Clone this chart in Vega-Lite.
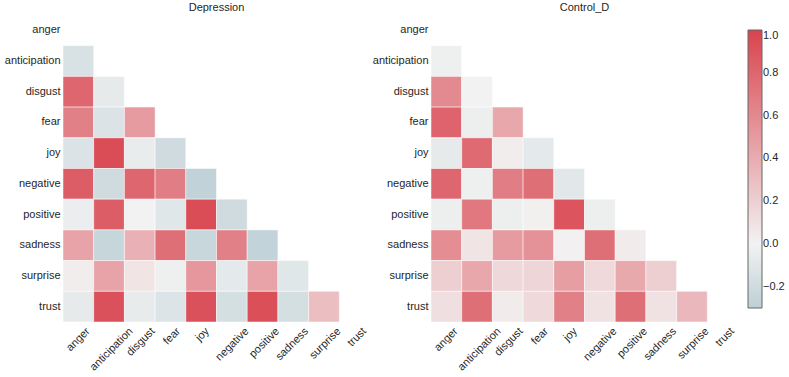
{
  "$schema": "https://vega.github.io/schema/vega-lite/v6.json",
  "padding": {"left": 4, "top": 2, "right": 2, "bottom": 2},
  "config": {
    "font": "Liberation Sans",
    "view": {"stroke": null},
    "concat": {"spacing": 2},
    "title": {"fontSize": 11, "fontWeight": "normal", "color": "#262626", "offset": 2, "font": "Liberation Sans"},
    "axis": {"labelFont": "Liberation Sans", "labelFontSize": 11, "labelColor": "#262626", "ticks": false, "domain": false, "grid": false, "title": null},
    "legend": {"labelFont": "Liberation Sans", "labelFontSize": 11, "labelColor": "#262626"}
  },
  "datasets": {
    "dep": [
      {"row": "anticipation", "col": "anger", "value": -0.15},
      {"row": "disgust", "col": "anger", "value": 0.8},
      {"row": "disgust", "col": "anticipation", "value": -0.07},
      {"row": "fear", "col": "anger", "value": 0.65},
      {"row": "fear", "col": "anticipation", "value": -0.13},
      {"row": "fear", "col": "disgust", "value": 0.5},
      {"row": "joy", "col": "anger", "value": -0.13},
      {"row": "joy", "col": "anticipation", "value": 0.95},
      {"row": "joy", "col": "disgust", "value": -0.05},
      {"row": "joy", "col": "fear", "value": -0.2},
      {"row": "negative", "col": "anger", "value": 0.85},
      {"row": "negative", "col": "anticipation", "value": -0.2},
      {"row": "negative", "col": "disgust", "value": 0.8},
      {"row": "negative", "col": "fear", "value": 0.67},
      {"row": "negative", "col": "joy", "value": -0.28},
      {"row": "positive", "col": "anger", "value": -0.04},
      {"row": "positive", "col": "anticipation", "value": 0.85},
      {"row": "positive", "col": "disgust", "value": 0.0},
      {"row": "positive", "col": "fear", "value": -0.1},
      {"row": "positive", "col": "joy", "value": 0.95},
      {"row": "positive", "col": "negative", "value": -0.2},
      {"row": "sadness", "col": "anger", "value": 0.45},
      {"row": "sadness", "col": "anticipation", "value": -0.25},
      {"row": "sadness", "col": "disgust", "value": 0.37},
      {"row": "sadness", "col": "fear", "value": 0.75},
      {"row": "sadness", "col": "joy", "value": -0.24},
      {"row": "sadness", "col": "negative", "value": 0.65},
      {"row": "sadness", "col": "positive", "value": -0.27},
      {"row": "surprise", "col": "anger", "value": 0.03},
      {"row": "surprise", "col": "anticipation", "value": 0.45},
      {"row": "surprise", "col": "disgust", "value": 0.08},
      {"row": "surprise", "col": "fear", "value": -0.02},
      {"row": "surprise", "col": "joy", "value": 0.52},
      {"row": "surprise", "col": "negative", "value": -0.08},
      {"row": "surprise", "col": "positive", "value": 0.45},
      {"row": "surprise", "col": "sadness", "value": -0.1},
      {"row": "trust", "col": "anger", "value": -0.07},
      {"row": "trust", "col": "anticipation", "value": 0.92},
      {"row": "trust", "col": "disgust", "value": -0.06},
      {"row": "trust", "col": "fear", "value": -0.12},
      {"row": "trust", "col": "joy", "value": 0.92},
      {"row": "trust", "col": "negative", "value": -0.17},
      {"row": "trust", "col": "positive", "value": 0.93},
      {"row": "trust", "col": "sadness", "value": -0.17},
      {"row": "trust", "col": "surprise", "value": 0.3}
    ],
    "con": [
      {"row": "anticipation", "col": "anger", "value": -0.02},
      {"row": "disgust", "col": "anger", "value": 0.6},
      {"row": "disgust", "col": "anticipation", "value": 0.0},
      {"row": "fear", "col": "anger", "value": 0.82},
      {"row": "fear", "col": "anticipation", "value": -0.03},
      {"row": "fear", "col": "disgust", "value": 0.43},
      {"row": "joy", "col": "anger", "value": -0.07},
      {"row": "joy", "col": "anticipation", "value": 0.78},
      {"row": "joy", "col": "disgust", "value": 0.03},
      {"row": "joy", "col": "fear", "value": -0.08},
      {"row": "negative", "col": "anger", "value": 0.8},
      {"row": "negative", "col": "anticipation", "value": -0.02},
      {"row": "negative", "col": "disgust", "value": 0.67},
      {"row": "negative", "col": "fear", "value": 0.75},
      {"row": "negative", "col": "joy", "value": -0.09},
      {"row": "positive", "col": "anger", "value": -0.03},
      {"row": "positive", "col": "anticipation", "value": 0.7},
      {"row": "positive", "col": "disgust", "value": -0.03},
      {"row": "positive", "col": "fear", "value": 0.02},
      {"row": "positive", "col": "joy", "value": 0.9},
      {"row": "positive", "col": "negative", "value": -0.03},
      {"row": "sadness", "col": "anger", "value": 0.58},
      {"row": "sadness", "col": "anticipation", "value": 0.08},
      {"row": "sadness", "col": "disgust", "value": 0.5},
      {"row": "sadness", "col": "fear", "value": 0.55},
      {"row": "sadness", "col": "joy", "value": 0.01},
      {"row": "sadness", "col": "negative", "value": 0.75},
      {"row": "sadness", "col": "positive", "value": 0.04},
      {"row": "surprise", "col": "anger", "value": 0.2},
      {"row": "surprise", "col": "anticipation", "value": 0.43},
      {"row": "surprise", "col": "disgust", "value": 0.15},
      {"row": "surprise", "col": "fear", "value": 0.16},
      {"row": "surprise", "col": "joy", "value": 0.48},
      {"row": "surprise", "col": "negative", "value": 0.14},
      {"row": "surprise", "col": "positive", "value": 0.42},
      {"row": "surprise", "col": "sadness", "value": 0.2},
      {"row": "trust", "col": "anger", "value": 0.11},
      {"row": "trust", "col": "anticipation", "value": 0.75},
      {"row": "trust", "col": "disgust", "value": 0.04},
      {"row": "trust", "col": "fear", "value": 0.14},
      {"row": "trust", "col": "joy", "value": 0.65},
      {"row": "trust", "col": "negative", "value": 0.1},
      {"row": "trust", "col": "positive", "value": 0.75},
      {"row": "trust", "col": "sadness", "value": 0.09},
      {"row": "trust", "col": "surprise", "value": 0.33}
    ]
  },
  "hconcat": [
    {
      "title": "Depression",
      "width": 307,
      "height": 307,
      "data": {"name": "dep"},
      "mark": {"type": "rect", "stroke": "white", "strokeWidth": 0.5},
      "encoding": {
        "x": {"field": "col", "type": "nominal",
          "scale": {"domain": ["anger","anticipation","disgust","fear","joy","negative","positive","sadness","surprise","trust"], "paddingInner": 0, "paddingOuter": 0},
          "axis": {"labelAngle": -45, "labelAlign": "right", "labelBaseline": "top", "labelPadding": 3, "labelOffset": {"expr": "length(datum.label) * 1.75 - 3"}}},
        "y": {"field": "row", "type": "nominal",
          "scale": {"domain": ["anger","anticipation","disgust","fear","joy","negative","positive","sadness","surprise","trust"], "paddingInner": 0, "paddingOuter": 0},
          "axis": {"labelPadding": 3}},
        "color": {"field": "value", "type": "quantitative",
          "scale": {"domain": [-0.3, 0, 1], "range": ["#bdd0d6", "#f2f2f2", "#d9434e"], "interpolate": "rgb"},
          "legend": {"title": null, "values": [-0.2, 0, 0.2, 0.4, 0.6, 0.8, 1.0], "format": ".1f", "gradientLength": 278, "gradientThickness": 14, "offset": -5, "padding": 15, "labelOffset": 1, "gradientStrokeColor": "#666666", "gradientStrokeWidth": 1, "labelBaseline": "middle"}}
      }
    },
    {
      "title": "Control_D",
      "width": 307,
      "height": 307,
      "data": {"name": "con"},
      "mark": {"type": "rect", "stroke": "white", "strokeWidth": 0.5},
      "encoding": {
        "x": {"field": "col", "type": "nominal",
          "scale": {"domain": ["anger","anticipation","disgust","fear","joy","negative","positive","sadness","surprise","trust"], "paddingInner": 0, "paddingOuter": 0},
          "axis": {"labelAngle": -45, "labelAlign": "right", "labelBaseline": "top", "labelPadding": 3, "labelOffset": {"expr": "length(datum.label) * 1.75 - 3"}}},
        "y": {"field": "row", "type": "nominal",
          "scale": {"domain": ["anger","anticipation","disgust","fear","joy","negative","positive","sadness","surprise","trust"], "paddingInner": 0, "paddingOuter": 0},
          "axis": {"labelPadding": 3}},
        "color": {"field": "value", "type": "quantitative",
          "scale": {"domain": [-0.3, 0, 1], "range": ["#bdd0d6", "#f2f2f2", "#d9434e"], "interpolate": "rgb"}}
      }
    }
  ],
  "resolve": {"scale": {"color": "shared"}}
}
